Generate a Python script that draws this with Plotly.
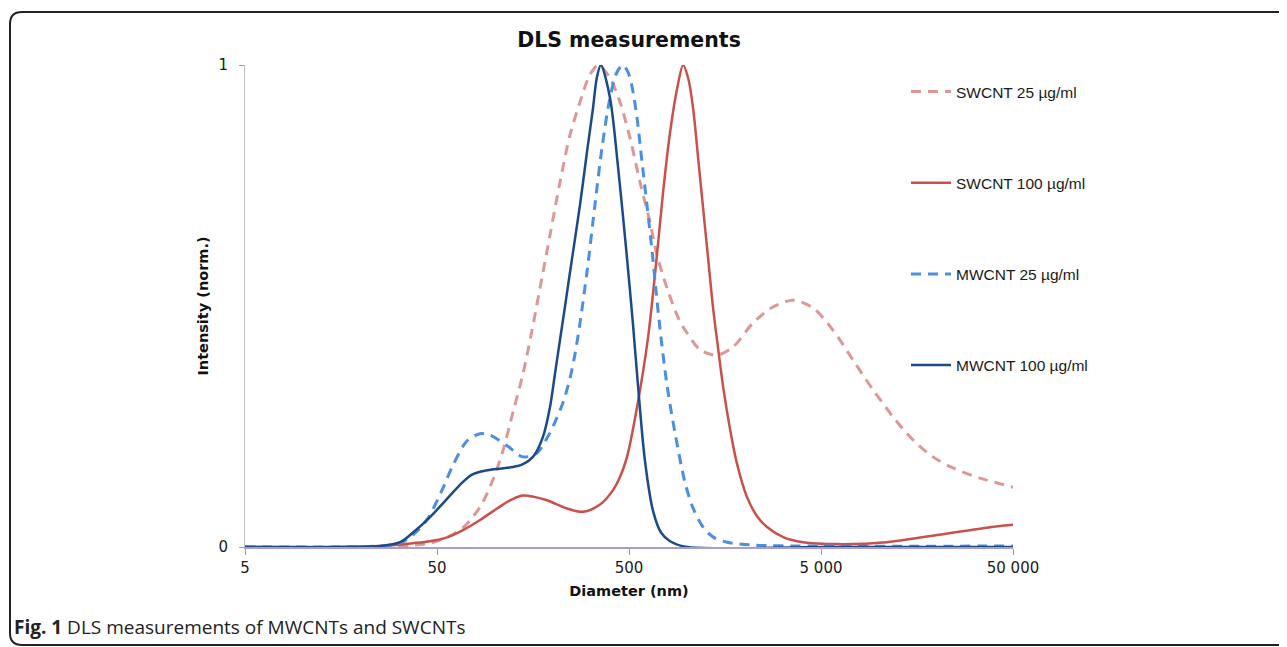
import plotly.graph_objects as go

# ---------------- data ----------------
sw25_d = [5, 30, 46, 56.4, 68.3, 83.8, 97.9, 110.3, 124.4, 140.3, 156.3, 171.9, 193.8, 218.6,
          246.4, 277.9, 313, 347, 398, 448.7, 506, 570.5, 643, 699, 789, 922, 1004, 1173, 1439,
          1742, 2214, 2813, 3574, 4542, 5770, 7341, 9333, 11870, 15070, 19150, 24330, 33640, 50000]
sw25_i = [0, 0.002, 0.008, 0.02, 0.04, 0.083, 0.14, 0.2, 0.28, 0.36, 0.45, 0.537, 0.647, 0.757,
          0.855, 0.923, 0.98, 1.0, 0.973, 0.923, 0.849, 0.757, 0.674, 0.606, 0.537, 0.467, 0.444, 0.409, 0.398,
          0.415, 0.465, 0.498, 0.512, 0.496, 0.45, 0.388, 0.326, 0.27, 0.222, 0.187, 0.164, 0.143, 0.124]

sw100_d = [5, 25.2, 37.5, 46, 56.4, 68.3, 83.8, 110.3, 124.4, 140.3, 160, 187, 237.8, 288, 353,
           412.8, 448.7, 488.3, 550.5, 628, 699, 752, 818, 889.5, 957, 1020, 1081, 1148, 1219, 1294,
           1374, 1459, 1549, 1679, 1820, 2052, 2313, 2607, 3200, 4029, 6055, 11040, 20090, 36570, 50000]
sw100_i = [0, 0.002, 0.008, 0.012, 0.02, 0.035, 0.056, 0.088, 0.1, 0.107, 0.104, 0.097, 0.08, 0.073, 0.088,
           0.118, 0.145, 0.187, 0.29, 0.434, 0.606, 0.735, 0.86, 0.95, 1.0, 0.97, 0.907, 0.803, 0.699, 0.595,
           0.492, 0.409, 0.33, 0.245, 0.175, 0.105, 0.065, 0.042, 0.02, 0.01, 0.006, 0.01, 0.025, 0.04, 0.046]

mw25_d = [5, 25.2, 32.1, 37.5, 44.9, 53.1, 60.6, 71.6, 83.8, 94.4, 115.8, 140.3, 165.9, 187, 201,
          226.7, 246.4, 261.6, 277.9, 302.2, 332.4, 361.6, 398, 432.8, 465, 494, 518.5, 550.5, 584,
          620, 659, 690, 724, 789, 869, 980, 1080, 1216, 1380, 1622, 2214, 5000, 50000]
mw25_i = [0, 0.002, 0.008, 0.025, 0.06, 0.118, 0.17, 0.22, 0.235, 0.232, 0.21, 0.187, 0.195, 0.226, 0.25,
          0.3, 0.35, 0.4, 0.465, 0.571, 0.71, 0.828, 0.932, 0.985, 1.0, 0.985, 0.955, 0.89, 0.8,
          0.71, 0.615, 0.535, 0.455, 0.335, 0.236, 0.133, 0.08, 0.041, 0.02, 0.01, 0.004, 0.002, 0.002]

mw100_d = [5, 17.6, 25.2, 32.1, 37.5, 46, 56.4, 68.3, 76.1, 83.8, 102.7, 124.4, 140.3, 158.1, 178, 193.8,
           205.9, 218.6, 232.3, 246.4, 277.9, 302.2, 324.6, 340.4, 357, 398, 438, 488, 525, 557, 605, 667,
           734, 818, 1004, 5000, 50000]
mw100_i = [0, 0, 0.002, 0.01, 0.03, 0.062, 0.1, 0.135, 0.15, 0.156, 0.162, 0.166, 0.172, 0.187, 0.228, 0.29,
           0.36, 0.43, 0.5, 0.57, 0.71, 0.82, 0.91, 0.975, 1.0, 0.932, 0.79, 0.6, 0.46, 0.335, 0.18, 0.075,
           0.03, 0.012, 0.0, 0.0, 0.0]

series_names = ["SWCNT 25 µg/ml", "SWCNT 100 µg/ml", "MWCNT 25 µg/ml", "MWCNT 100 µg/ml"]
x_tick_vals = [5, 50, 500, 5000, 50000]
x_tick_text = ["5", "50", "500", "5 000", "50 000"]
y_tick_vals = [0, 1]
y_tick_text = ["0", "1"]

# ---------------- figure ----------------
FONT = "Liberation Sans, Arial, sans-serif"
WIDE = "DejaVu Sans, Verdana, sans-serif"
fig = go.Figure()

styles = [
    dict(color="#DC9896", width=3, dash="10px,7px"),
    dict(color="#C9504B", width=2.5, dash="solid"),
    dict(color="#4C8EDF", width=3, dash="10px,7px"),
    dict(color="#1C4A87", width=2.5, dash="solid"),
]
data = [(sw25_d, sw25_i), (sw100_d, sw100_i), (mw25_d, mw25_i), (mw100_d, mw100_i)]

for k, ((xd, yd), name, st) in enumerate(zip(data, series_names, styles)):
    fig.add_trace(go.Scatter(
        x=xd, y=yd, mode="lines", name=name, legendgroup=f"g{k}",
        line=dict(color=st["color"], width=st["width"], dash=st["dash"],
                  shape="spline", smoothing=0.85),
        hoverinfo="skip",
    ))

OFF = 8  # page body margin
W, H = 1287 - OFF, 647 - OFF
L, R, T, B = 245 - OFF, 1013 - OFF, 65 - OFF, 547 - OFF
pw, ph = R - L, B - T

def px(xs):  # screenshot x -> paper x
    return (xs - OFF - L) / pw

def py(ys):  # screenshot y -> paper y
    return (B - (ys - OFF)) / ph

# rounded frame around the whole figure (decoration)
fx0, fy0, fy1, fx1 = px(10), py(12), py(645), px(1300)
rx, ry = 12 / pw, 12 / ph
frame_path = (f"M {fx1},{fy0} L {fx0 + rx},{fy0} Q {fx0},{fy0} {fx0},{fy0 - ry} "
              f"L {fx0},{fy1 + ry} Q {fx0},{fy1} {fx0 + rx},{fy1} L {fx1},{fy1}")

fig.update_layout(
    width=W, height=H,
    margin=dict(l=L, r=W - R, t=T, b=H - B, autoexpand=False),
    paper_bgcolor="white", plot_bgcolor="white",
    font=dict(family=FONT, size=14, color="#1a1a1a"),
    title=dict(text="<b>DLS measurements</b>", x=(L + R) / 2 / W, xanchor="center",
               y=1 - (40 - OFF) / H, yanchor="middle", yref="container",
               font=dict(family=WIDE, size=20.5, color="#111")),
    showlegend=True,
    legend=dict(x=px(906), y=py(75), xanchor="left", yanchor="top",
                font=dict(family=FONT, size=15.5, color="#1a1a1a"),
                tracegroupgap=68, bgcolor="rgba(0,0,0,0)", itemwidth=40),
    xaxis=dict(type="log", range=[0.69897, 4.69897], tickvals=x_tick_vals, ticktext=x_tick_text,
               showgrid=False, zeroline=False, showline=True, linecolor="#A99CCB", linewidth=2,
               ticks="outside", ticklen=6, tickcolor="#A0A0A0", tickwidth=1,
               tickfont=dict(family=WIDE, size=15, color="#1a1a1a"),
               title=dict(text="<b>Diameter (nm)</b>", standoff=10,
                          font=dict(family=WIDE, size=14.5, color="#111"))),
    yaxis=dict(range=[0, 1], tickvals=y_tick_vals, ticktext=y_tick_text,
               showgrid=False, zeroline=False, showline=True, linecolor="#BEBEBE", linewidth=1,
               ticks="outside", ticklen=5, tickcolor="#A0A0A0", tickwidth=1,
               ticklabelstandoff=8,
               tickfont=dict(family=WIDE, size=15, color="#1a1a1a"),
               title=dict(text="<b>Intensity (norm.)</b>", standoff=6,
                          font=dict(family=WIDE, size=14.5, color="#111"))),
    shapes=[dict(type="path", xref="paper", yref="paper", path=frame_path,
                 line=dict(color="#222222", width=2), layer="above")],
    annotations=[dict(text="<b>Fig. 1</b> DLS measurements of MWCNTs and SWCNTs",
                      xref="paper", yref="paper", x=px(12), y=py(627), xanchor="left",
                      yanchor="middle", showarrow=False,
                      font=dict(family="Open Sans, sans-serif", size=19, color="#222"))],
)

fig.write_html("out.html")
